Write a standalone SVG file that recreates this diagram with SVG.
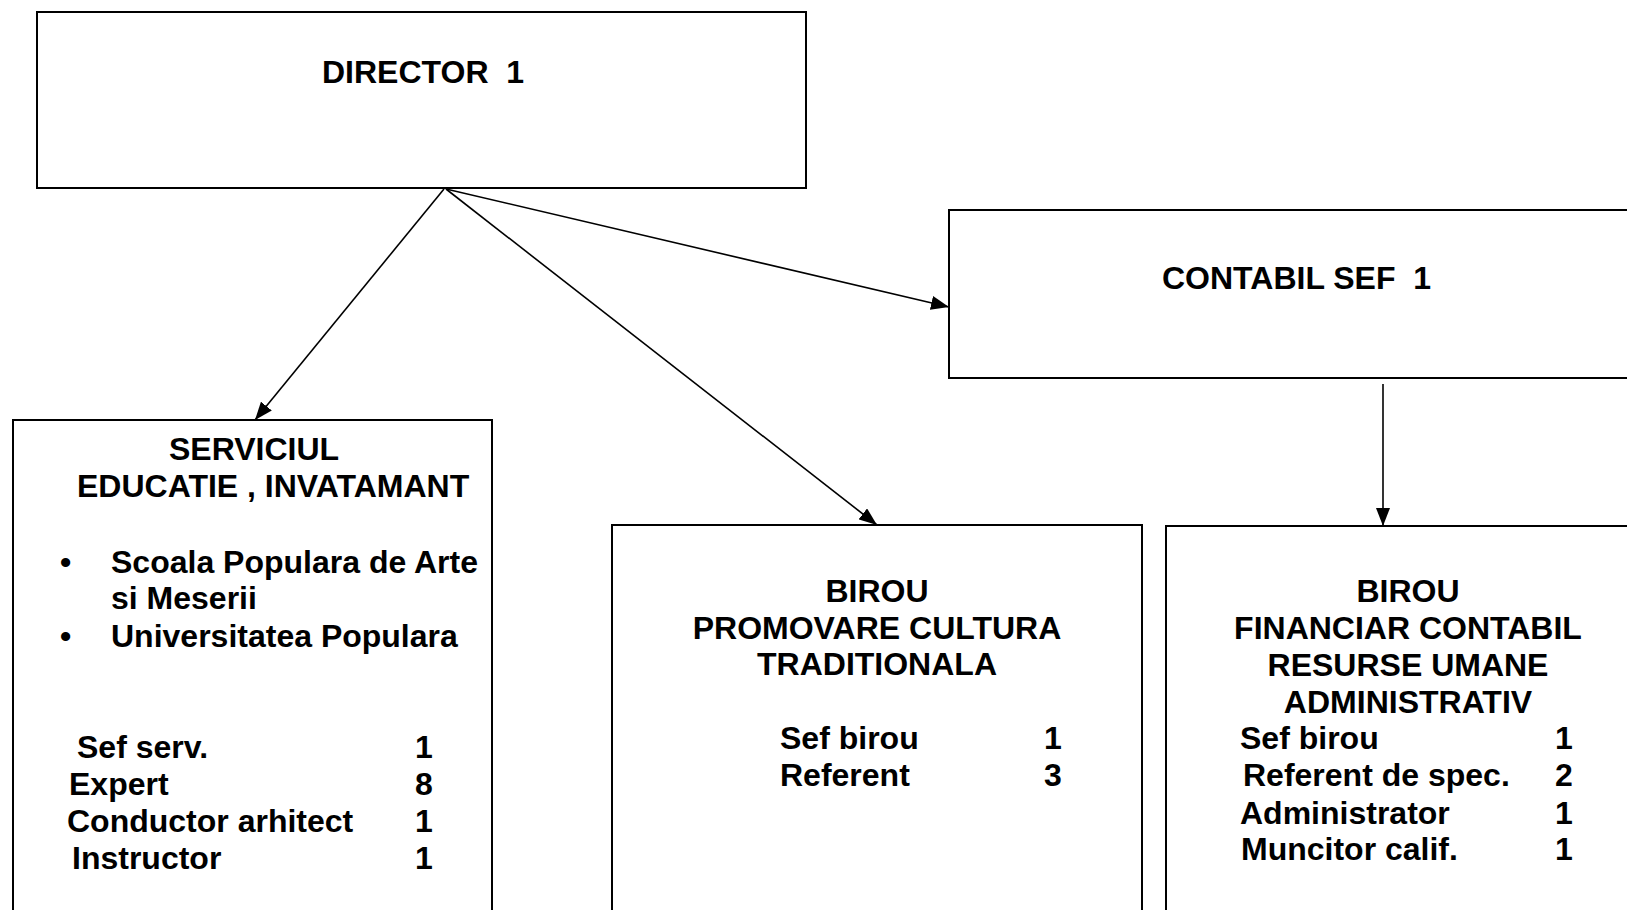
<svg xmlns="http://www.w3.org/2000/svg" width="1627" height="910" viewBox="0 0 1627 910">
<defs>
<style>
.box{fill:#fff;stroke:#000;stroke-width:2}
.t{font-family:"Liberation Sans",Arial,sans-serif;font-weight:bold;font-size:32px;fill:#000;white-space:pre}
.c{text-anchor:middle}
.conn{stroke:#000;stroke-width:1.6;fill:none;marker-end:url(#ah)}
</style>
<marker id="ah" viewBox="0 0 18 14" refX="18" refY="7" markerWidth="18" markerHeight="14" markerUnits="userSpaceOnUse" orient="auto">
<path d="M0,0 L18,7 L0,14 z" fill="#000"/>
</marker>
</defs>
<rect width="1627" height="910" fill="#fff"/>
<g id="director">
<rect class="box" x="37" y="12" width="769" height="176"/>
<text class="t" x="322" y="83" xml:space="preserve">DIRECTOR  1</text>
</g>
<g id="contabil-sef">
<rect class="box" x="949" y="210" width="700" height="168"/>
<text class="t" x="1162" y="289" xml:space="preserve">CONTABIL SEF  1</text>
</g>
<g id="serviciul">
<rect class="box" x="13" y="420" width="479" height="520"/>
<text class="t" x="169" y="460">SERVICIUL</text>
<text class="t" x="77" y="497">EDUCATIE , INVATAMANT</text>
<text class="t" x="60" y="573">•</text>
<text class="t" x="111" y="573">Scoala Populara de Arte</text>
<text class="t" x="111" y="609">si Meserii</text>
<text class="t" x="60" y="647">•</text>
<text class="t" x="111" y="647">Universitatea Populara</text>
<text class="t" x="77" y="758">Sef serv.</text>
<text class="t" x="415" y="758">1</text>
<text class="t" x="69" y="795">Expert</text>
<text class="t" x="415" y="795">8</text>
<text class="t" x="67" y="832">Conductor arhitect</text>
<text class="t" x="415" y="832">1</text>
<text class="t" x="72" y="869">Instructor</text>
<text class="t" x="415" y="869">1</text>
</g>
<g id="birou-promovare">
<rect class="box" x="612" y="525" width="530" height="420"/>
<text class="t c" x="877" y="602">BIROU</text>
<text class="t c" x="877" y="639">PROMOVARE CULTURA</text>
<text class="t c" x="877" y="675">TRADITIONALA</text>
<text class="t" x="780" y="749">Sef birou</text>
<text class="t" x="1044" y="749">1</text>
<text class="t" x="780" y="786">Referent</text>
<text class="t" x="1044" y="786">3</text>
</g>
<g id="birou-financiar">
<rect class="box" x="1166" y="526" width="480" height="420"/>
<text class="t c" x="1408" y="602">BIROU</text>
<text class="t c" x="1408" y="639">FINANCIAR CONTABIL</text>
<text class="t c" x="1408" y="676">RESURSE UMANE</text>
<text class="t c" x="1408" y="713">ADMINISTRATIV</text>
<text class="t" x="1240" y="749">Sef birou</text>
<text class="t" x="1555" y="749">1</text>
<text class="t" x="1243" y="786">Referent de spec.</text>
<text class="t" x="1555" y="786">2</text>
<text class="t" x="1240" y="824">Administrator</text>
<text class="t" x="1555" y="824">1</text>
<text class="t" x="1241" y="860">Muncitor calif.</text>
<text class="t" x="1555" y="860">1</text>
</g>
<g id="connectors">
<line class="conn" x1="444" y1="189" x2="255" y2="420"/>
<line class="conn" x1="446" y1="189" x2="877" y2="525"/>
<line class="conn" x1="446" y1="189" x2="949" y2="307"/>
<line class="conn" x1="1383" y1="384" x2="1383" y2="526"/>
</g>
</svg>
